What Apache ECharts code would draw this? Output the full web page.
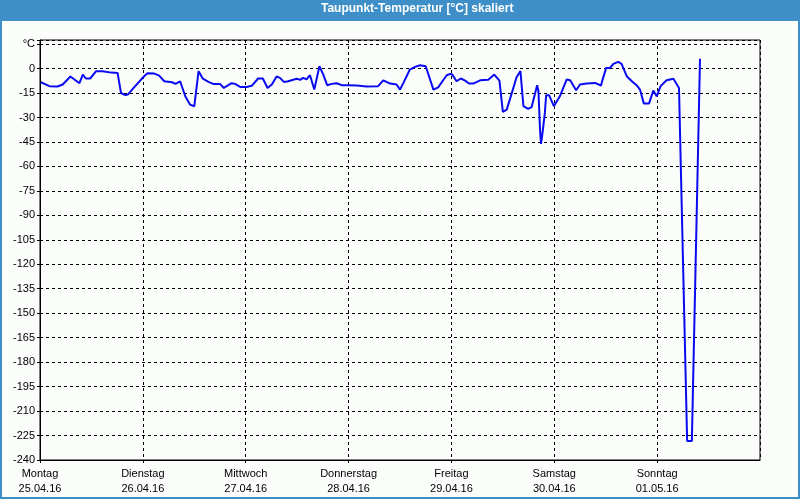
<!DOCTYPE html>
<html>
<head>
<meta charset="utf-8">
<script src="https://cdn.jsdelivr.net/npm/echarts@6/dist/echarts.min.js"></script>
<style>
  html, body { margin: 0; padding: 0; background: #fbfdfb; }
  #chart { width: 800px; height: 500px; }
</style>
</head>
<body>
<div id="chart"></div>
<script>
// hours since Monday 25.04.16 00:00
const hours = [
  0.2, 2.2, 4.1, 5.3, 7.1, 9.2, 10.0, 10.7, 11.7, 13.1, 14.6, 16.6, 18.1, 18.9, 19.9, 20.5, 22.0,
  24.3, 25.1, 26.7, 27.8, 29.0, 30.8, 31.6, 32.7, 33.9, 35.0, 36.0, 37.0, 38.0, 39.3, 40.4, 42.0,
  42.9, 44.7, 45.5, 46.7, 48.2, 49.4, 50.9, 52.0, 53.1, 54.1, 55.2, 56.0, 56.9, 57.9, 58.7, 59.9,
  60.7, 61.4, 62.2, 63.0, 64.0, 65.2, 66.1, 67.0, 68.1, 69.2, 70.4, 71.9, 73.9, 76.2, 78.9, 80.1,
  81.7, 83.2, 84.0, 84.8, 86.3, 87.5, 88.7, 90.0, 91.8, 92.9, 94.9, 95.7, 96.2, 97.2, 98.2, 99.2,
  100.1, 101.1, 102.7, 104.6, 106.0, 107.2, 108.0, 108.9, 110.1, 111.2, 112.1, 112.8, 113.9, 114.7,
  115.5, 116.0, 116.3, 116.7, 116.9, 117.3, 117.8, 118.1, 118.8, 119.9, 121.3, 122.9, 123.7, 125.1,
  126.0, 127.6, 129.5, 130.9, 131.4, 132.1, 133.0, 133.8, 134.9, 135.7, 136.9, 138.1, 139.2, 140.0,
  140.9, 142.1, 143.1, 143.9, 144.8, 146.2, 147.8, 149.1, 151.0, 152.1, 154.0
];
const dewPoint = [
  -8.4, -10.8, -11, -9.8, -4.9, -9, -3.7, -6.1, -6.1, -1.6, -1.6, -2.5, -2.7, -15, -16.3, -16, -11.4,
  -4.7, -2.9, -3.1, -4.3, -7.8, -8.4, -9.4, -7.8, -17, -22.1, -23.1, -1.6, -6.2, -8.2, -9.4, -9.4,
  -11.9, -9, -9.4, -11.3, -11.3, -10.6, -6.1, -6.1, -11.9, -9.8, -4.9, -5.7, -8.2, -7.8, -7.2, -6.3,
  -6.9, -5.7, -6.7, -4.1, -12.9, 1.4, -3.7, -10.2, -9.4, -9, -10.2, -10.2, -10.4, -11, -10.8, -7.2,
  -9.2, -9.8, -12.9, -8.8, -0.6, 1, 2, 1.4, -12.9, -11.5, -4.1, -3.3, -3.7, -7.8, -6.1, -7.4,
  -9.2, -9.2, -7.2, -6.9, -3.7, -7.4, -26.6, -25.2, -14.9, -5.3, -1.6, -23.1, -24.7, -23.7,
  -15.5, -10.2, -13.9, -38.5, -46.2, -38.5, -27.2, -16.4, -16.4, -23.1, -17, -6.7, -7.2, -13.3,
  -9.8, -9.2, -8.8, -10.4, -5.7, 0.4, 0.4, 2.9, 4.1, 2.9, -4.7, -7.8, -10.2, -12.9,
  -21.5, -21.5, -13.5, -17, -10.8, -7.2, -6.3, -11.9, -228.3, -228.3, 6
];
const dayNames = ['Montag', 'Dienstag', 'Mittwoch', 'Donnerstag', 'Freitag', 'Samstag', 'Sonntag'];
const dayDates = ['25.04.16', '26.04.16', '27.04.16', '28.04.16', '29.04.16', '30.04.16', '01.05.16'];

const chart = echarts.init(document.getElementById('chart'));
const font = 'Liberation Sans, Arial, sans-serif';

chart.setOption({
  animation: false,
  backgroundColor: '#fbfdfb',
  title: {
    text: 'Taupunkt-Temperatur [°C] skaliert',
    left: 321,
    top: 3,
    padding: 0,
    textStyle: { color: '#fff', fontFamily: font, fontSize: 12, fontWeight: 'bold' }
  },
  graphic: [
    { type: 'rect', z: -1, shape: { x: 0, y: 0, width: 800, height: 21 }, style: { fill: '#3e8fc7' } },
    { type: 'rect', z: -1, shape: { x: 1, y: 1, width: 798, height: 497 }, style: { fill: null, stroke: '#3e8fc7', lineWidth: 2 } }
  ],
  grid: {
    left: 40, right: 40, top: 40, bottom: 40,
    show: true, borderColor: '#000', borderWidth: 1, backgroundColor: 'transparent'
  },
  xAxis: {
    type: 'value',
    min: 0, max: 168, interval: 24,
    axisLine: { show: true, onZero: false, lineStyle: { color: '#000' } },
    axisTick: { show: true, length: 3, lineStyle: { color: '#000' } },
    splitLine: { show: true, lineStyle: { color: '#000', type: [3, 3] } },
    axisLabel: {
      margin: 6,
      color: '#000',
      fontFamily: font,
      fontSize: 11,
      lineHeight: 15,
      showMaxLabel: false,
      formatter: v => {
        const i = Math.round(v / 24);
        return i < 7 ? dayNames[i] + '\n' + dayDates[i] : '';
      }
    }
  },
  yAxis: {
    type: 'value',
    min: -240, max: 17.5, interval: 15,
    axisLine: { show: true, lineStyle: { color: '#000' } },
    axisTick: { show: true, length: 3, lineStyle: { color: '#000' } },
    splitLine: { show: true, lineStyle: { color: '#000', type: [3, 3] } },
    axisLabel: {
      margin: 5,
      color: '#000',
      fontFamily: font,
      fontSize: 11,
      formatter: v => v === 15 ? '°C' : (v % 15 === 0 ? String(v) : '')
    }
  },
  series: [{
    type: 'line',
    data: hours.map((h, i) => [h, dewPoint[i]]),
    showSymbol: false,
    lineStyle: { color: '#0a0af0', width: 2 },
    itemStyle: { color: '#0a0af0' }
  }]
});
</script>
</body>
</html>
